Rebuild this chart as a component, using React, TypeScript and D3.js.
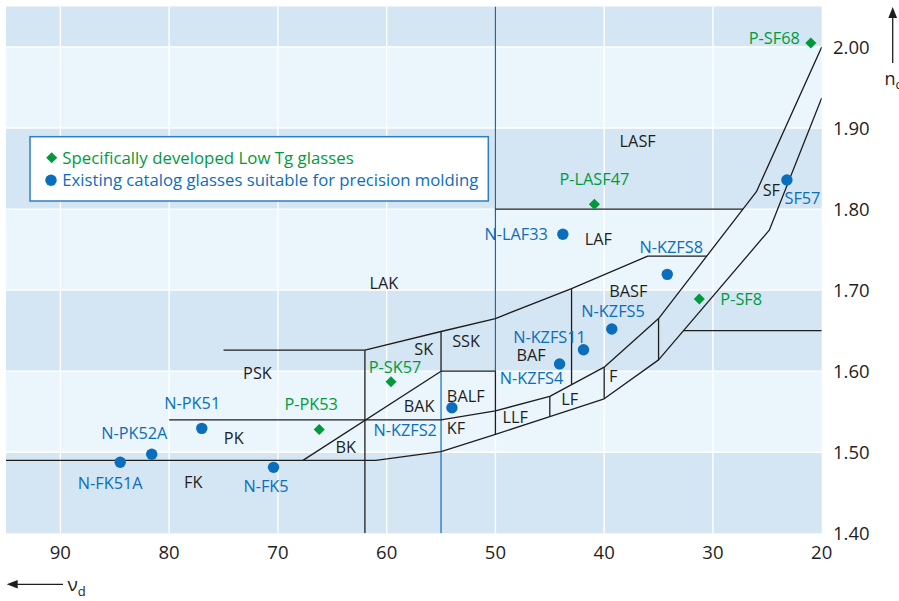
import React from "react";
import * as d3 from "d3";

// ---------- data ----------
const xTicks = [90, 80, 70, 60, 50, 40, 30, 20];
const yTicks = [1.4, 1.5, 1.6, 1.7, 1.8, 1.9, 2.0];
const bandEdges = [1.4, 1.5, 1.6, 1.7, 1.8, 1.9, 2.0, 2.05];

const lowTgNames = ["P-SF68", "P-LASF47", "P-SF8", "P-SK57", "P-PK53"];
const lowTgAbbe = [21.0, 40.9, 31.25, 59.6, 66.2];
const lowTgIndex = [2.005, 1.806, 1.689, 1.587, 1.528];

const catalogNames = ["SF57", "N-LAF33", "N-KZFS8", "N-KZFS5", "N-KZFS11", "N-KZFS4", "N-KZFS2", "N-PK51", "N-PK52A", "N-FK51A", "N-FK5"];
const catalogAbbe = [23.2, 43.8, 34.2, 39.3, 41.9, 44.1, 54.0, 77.0, 81.6, 84.5, 70.4];
const catalogIndex = [1.836, 1.769, 1.7195, 1.652, 1.6265, 1.609, 1.555, 1.5295, 1.4975, 1.4876, 1.4814];

const regionNames = ["LASF", "LAF", "LAK", "SF", "BASF", "BAF", "SSK", "SK", "PSK", "BAK", "BALF", "KF", "BK", "PK", "FK", "LLF", "LF", "F"];
const regionAbbe = [36.92, 40.54, 60.26, 24.63, 37.78, 46.73, 52.7, 56.59, 71.88, 57.01, 52.73, 53.62, 63.77, 74.06, 77.78, 48.17, 43.17, 39.16];
const regionIndex = [1.877, 1.7557, 1.701, 1.816, 1.692, 1.613, 1.6295, 1.62, 1.59, 1.55, 1.5624, 1.5225, 1.4994, 1.5102, 1.4555, 1.5357, 1.5583, 1.587];

// glass-map boundaries [abbe, index]
const lowerCurve: [number, number][] = [[95, 1.49], [61, 1.49], [55, 1.5007], [50, 1.522], [45, 1.544], [40, 1.566], [35, 1.614], [24.82, 1.774], [20, 1.937]];
const upperCurve: [number, number][] = [[80, 1.54], [55, 1.54], [50, 1.551], [45, 1.569], [40, 1.605], [35, 1.665], [26, 1.8215], [20, 2.0]];
const crownTopLine: [number, number][] = [[75, 1.626], [62, 1.626], [55, 1.649], [50, 1.665], [43, 1.702], [36, 1.742], [30.57, 1.742]];
const lasfLine: [number, number][] = [[50, 1.8], [27.24, 1.8]];
const sfLine: [number, number][] = [[32.7, 1.65], [20, 1.65]];
const balfLine: [number, number][] = [[55, 1.6], [50, 1.6]];
const bkLine: [number, number][] = [[67.7, 1.49], [55, 1.6]];
const v62Line: [number, number][] = [[62, 1.626], [62, 1.4]];
const v55Line: [number, number][] = [[55, 1.649], [55, 1.6]];
const v50Line: [number, number][] = [[50, 1.6], [50, 1.522]];
const v43Line: [number, number][] = [[43, 1.702], [43, 1.584]];
const v45Line: [number, number][] = [[45, 1.569], [45, 1.544]];
const v40Line: [number, number][] = [[40, 1.605], [40, 1.566]];
const v35Line: [number, number][] = [[35, 1.665], [35, 1.614]];
const blueLines: [number, number][][] = [[[50, 2.05], [50, 1.6]], [[55, 1.6], [55, 1.4]]];

// ---------- layout ----------
const W = 899, H = 601;
const FONT = "'Open Sans', Lato, sans-serif";
const GREEN = "#009a3d";
const BLUE = "#0a6ebd";
const DARK = "#d4e5f3";
const LIGHT = "#eaf5fc";
const INK = "#1e1e1e";
const LABEL_SIZE = 16.3;

const labelLayout: Record<string, { dx: number; dy: number; anchor: string }> = {
  "P-SF68": { dx: -11, dy: 1, anchor: "end" },
  "P-LASF47": { dx: 0, dy: -19, anchor: "middle" },
  "P-SF8": { dx: 21, dy: 6, anchor: "start" },
  "P-SK57": { dx: 4, dy: -8.6, anchor: "middle" },
  "P-PK53": { dx: -8, dy: -19.7, anchor: "middle" },
  "SF57": { dx: -2.4, dy: 24, anchor: "start" },
  "N-LAF33": { dx: -15, dy: 5.7, anchor: "end" },
  "N-KZFS8": { dx: 4, dy: -21, anchor: "middle" },
  "N-KZFS5": { dx: 1.3, dy: -11.7, anchor: "middle" },
  "N-KZFS11": { dx: -34, dy: -7, anchor: "middle" },
  "N-KZFS4": { dx: -28, dy: 20, anchor: "middle" },
  "N-KZFS2": { dx: -15, dy: 28.3, anchor: "end" },
  "N-PK51": { dx: -9.5, dy: -19, anchor: "middle" },
  "N-PK52A": { dx: -17.5, dy: -15, anchor: "middle" },
  "N-FK51A": { dx: -10, dy: 26.7, anchor: "middle" },
  "N-FK5": { dx: -7.5, dy: 24.4, anchor: "middle" },
};

export default function App() {
  const x = d3.scaleLinear().domain([95, 20]).range([6, 821.7]);
  const y = d3.scaleLinear().domain([1.4, 2.05]).range([533.3, 6.5]);
  const line = d3.line<[number, number]>().x((d) => x(d[0])).y((d) => y(d[1]));
  const diamond = d3.symbol().type(d3.symbolDiamond2).size(78)();

  const blackLines = [lowerCurve, upperCurve, crownTopLine, lasfLine, sfLine, balfLine, bkLine, v62Line, v55Line, v50Line, v43Line, v45Line, v40Line, v35Line];

  const [x0, x1] = x.range();
  const [yb, yt] = y.range();

  return (
    <svg width={W} height={H} style={{ position: "absolute", left: 0, top: 0, background: "#fff" }} fontFamily={FONT}>
      <defs>
        <clipPath id="plot">
          <rect x={x0} y={yt} width={x1 - x0} height={yb - yt} />
        </clipPath>
      </defs>
      {bandEdges.slice(0, -1).map((b, i) => (
        <rect key={"b" + i} x={x0} width={x1 - x0} y={y(bandEdges[i + 1])} height={y(b) - y(bandEdges[i + 1])} fill={i % 2 === 0 ? DARK : LIGHT} />
      ))}
      {xTicks.filter((t) => t > 20).map((t) => (
        <line key={"gx" + t} x1={x(t)} x2={x(t)} y1={yt} y2={yb} stroke="#fff" strokeWidth={1.4} />
      ))}
      {yTicks.filter((t) => t > 1.4).map((t) => (
        <line key={"gy" + t} x1={x0} x2={x1} y1={y(t)} y2={y(t)} stroke="#fff" strokeWidth={1.4} />
      ))}
      <g clipPath="url(#plot)">
        {blueLines.map((l, i) => (
          <path key={"bl" + i} d={line(l) || ""} fill="none" stroke={BLUE} strokeWidth={1.2} />
        ))}
        {blackLines.map((l, i) => (
          <path key={"k" + i} d={line(l) || ""} fill="none" stroke={INK} strokeWidth={1.3} strokeLinejoin="round" />
        ))}
      </g>
      {regionNames.map((r, i) => (
        <text key={"r" + r} x={x(regionAbbe[i])} y={y(regionIndex[i])} textAnchor="middle" fontSize={LABEL_SIZE} fill={INK}>
          {r}
        </text>
      ))}
      {catalogNames.map((nme, i) => {
        const px = x(catalogAbbe[i]);
        const py = y(catalogIndex[i]);
        const L = labelLayout[nme];
        return (
          <g key={"c" + nme}>
            <circle cx={px} cy={py} r={5.7} fill={BLUE} />
            <text x={px + L.dx} y={py + L.dy} textAnchor={L.anchor as any} fontSize={LABEL_SIZE} fill={BLUE}>
              {nme}
            </text>
          </g>
        );
      })}
      {lowTgNames.map((nme, i) => {
        const px = x(lowTgAbbe[i]);
        const py = y(lowTgIndex[i]);
        const L = labelLayout[nme];
        return (
          <g key={"g" + nme}>
            <path d={diamond || ""} transform={`translate(${px},${py})`} fill={GREEN} />
            <text x={px + L.dx} y={py + L.dy} textAnchor={L.anchor as any} fontSize={LABEL_SIZE} fill={GREEN}>
              {nme}
            </text>
          </g>
        );
      })}
      <rect x={30} y={136.7} width={458.3} height={64.3} fill="#fff" stroke="#2e7fc1" strokeWidth={1.5} />
      <path d={diamond || ""} transform="translate(51.7,157.7)" fill={GREEN} />
      <text x={62.3} y={163.5} fontSize={15.8} fill={GREEN} textLength={291.5} lengthAdjust="spacingAndGlyphs">Specifically developed Low Tg glasses</text>
      <circle cx={51} cy={180.3} r={5.7} fill={BLUE} />
      <text x={62.3} y={186} fontSize={15.8} fill={BLUE} textLength={416} lengthAdjust="spacingAndGlyphs">Existing catalog glasses suitable for precision molding</text>
      {xTicks.map((t) => (
        <text key={"tx" + t} x={x(t)} y={559} textAnchor="middle" fontSize={18.5} fill={INK}>
          {t}
        </text>
      ))}
      {yTicks.map((t) => (
        <text key={"ty" + t} x={833} y={y(t) + 6.5} textAnchor="start" fontSize={18.5} fill={INK}>
          {t.toFixed(2)}
        </text>
      ))}
      <line x1={892.7} x2={892.7} y1={63} y2={16} stroke={INK} strokeWidth={1.3} />
      <path d="M892.7,7 L888.3,18 L897.1,18 Z" fill={INK} />
      <text x={884.5} y={85} fontSize={18} fill={INK}>
        n<tspan fontSize={13} dy={4}>d</tspan>
      </text>
      <line x1={16} x2={63} y1={584.3} y2={584.3} stroke={INK} strokeWidth={1.3} />
      <path d="M6.7,584.3 L17.7,580 L17.7,588.6 Z" fill={INK} />
      <text x={67.5} y={591} fontSize={19} fill={INK}>
        ν<tspan fontSize={13} dy={5}>d</tspan>
      </text>
    </svg>
  );
}
